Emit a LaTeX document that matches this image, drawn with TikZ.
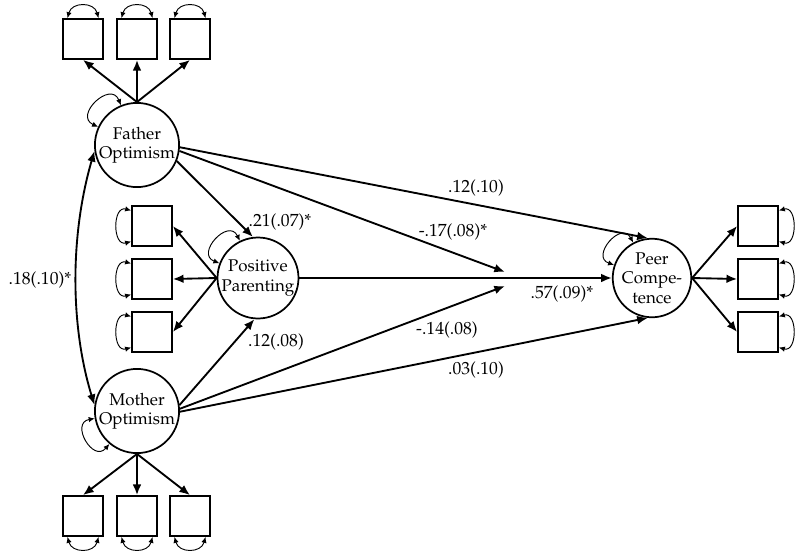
\documentclass[tikz,border=0pt]{standalone}
\usepackage[T1]{fontenc}
\usepackage{mathpazo}
\usetikzlibrary{arrows.meta}

\tikzset{
  latent/.style={circle,draw,line width=1.3pt,minimum size=57pt,inner sep=0pt,
    align=center,font=\fontsize{12.7}{14.5}\selectfont},
  indicator/.style={rectangle,draw,line width=1.3pt,minimum size=30pt,inner sep=0pt},
  effect/.style={line width=1.4pt,-{Latex[length=8pt,width=6.5pt]}},
  corr/.style={line width=1.4pt,{Latex[length=8pt,width=6.5pt]}-{Latex[length=8pt,width=6.5pt]}},
  resid/.style={line width=0.7pt,{Latex[length=4.5pt,width=4pt]}-{Latex[length=4.5pt,width=4pt]}},
  est/.style={font=\fontsize{13.2}{15}\selectfont,inner sep=0pt}
}

\begin{document}
\begin{tikzpicture}[x=0.75pt,y=-0.75pt]
\useasboundingbox (0,0) rectangle (800,558);
% latent variables
\node[latent] (fo) at (137,145) {Father\\Optimism};
\node[latent] (mo) at (137,411) {Mother\\Optimism};
\node[latent] (pp) at (258,278) {Positive\\Parenting};
\node[latent] (pc) at (652,278) {Peer\\Compe-\\tence};
% indicators
\node[indicator] (fo1) at (83,39) {};
\node[indicator] (fo2) at (137,39) {};
\node[indicator] (fo3) at (190,39) {};
\node[indicator] (pp1) at (152,226) {};
\node[indicator] (pp2) at (152,279) {};
\node[indicator] (pp3) at (152,332) {};
\node[indicator] (mo1) at (83,516) {};
\node[indicator] (mo2) at (137,516) {};
\node[indicator] (mo3) at (190,516) {};
\node[indicator] (pc1) at (758,226) {};
\node[indicator] (pc2) at (758,279) {};
\node[indicator] (pc3) at (758,332) {};
% loadings
\draw[effect] (fo.north) -- (fo1.south);
\draw[effect] (fo.north) -- (fo2.south);
\draw[effect] (fo.north) -- (fo3.south);
\draw[effect] (pp.west) -- (pp1.east);
\draw[effect] (pp.west) -- (pp2.east);
\draw[effect] (pp.west) -- (pp3.east);
\draw[effect] (mo.south) -- (mo1.north);
\draw[effect] (mo.south) -- (mo2.north);
\draw[effect] (mo.south) -- (mo3.north);
\draw[effect] (pc.east) -- (pc1.west);
\draw[effect] (pc.east) -- (pc2.west);
\draw[effect] (pc.east) -- (pc3.west);
% residuals
\draw[resid] ([xshift=4pt]fo1.north west) to[out=75,in=105,looseness=1.4] ([xshift=-4pt]fo1.north east);
\draw[resid] ([xshift=4pt]fo2.north west) to[out=75,in=105,looseness=1.4] ([xshift=-4pt]fo2.north east);
\draw[resid] ([xshift=4pt]fo3.north west) to[out=75,in=105,looseness=1.4] ([xshift=-4pt]fo3.north east);
\draw[resid] ([yshift=-4pt]pp1.north west) to[out=165,in=195,looseness=1.6] ([yshift=4pt]pp1.south west);
\draw[resid] ([yshift=-4pt]pp2.north west) to[out=165,in=195,looseness=1.6] ([yshift=4pt]pp2.south west);
\draw[resid] ([yshift=-4pt]pp3.north west) to[out=165,in=195,looseness=1.6] ([yshift=4pt]pp3.south west);
\draw[resid] ([xshift=4pt]mo1.south west) to[out=-75,in=-105,looseness=1.4] ([xshift=-4pt]mo1.south east);
\draw[resid] ([xshift=4pt]mo2.south west) to[out=-75,in=-105,looseness=1.4] ([xshift=-4pt]mo2.south east);
\draw[resid] ([xshift=4pt]mo3.south west) to[out=-75,in=-105,looseness=1.4] ([xshift=-4pt]mo3.south east);
\draw[resid] ([yshift=-4pt]pc1.north east) to[out=15,in=-15,looseness=1.6] ([yshift=4pt]pc1.south east);
\draw[resid] ([yshift=-4pt]pc2.north east) to[out=15,in=-15,looseness=1.6] ([yshift=4pt]pc2.south east);
\draw[resid] ([yshift=-4pt]pc3.north east) to[out=15,in=-15,looseness=1.6] ([yshift=4pt]pc3.south east);
\draw[resid] (fo.155) to[out=155,in=112,looseness=2.2] (fo.112);
\draw[resid] (pp.159) to[out=159,in=116,looseness=2.2] (pp.116);
\draw[resid] (mo.190) to[out=190,in=230,looseness=2.2] (mo.230);
\draw[resid] (pc.161) to[out=161,in=118,looseness=2.2] (pc.118);
% structural paths
\coordinate (m1) at (505,272);
\coordinate (m2) at (505,286);
\draw[corr] (fo.188) .. controls (70,235) and (70,325) .. (mo.172);
\draw[effect] (fo.-3) -- (pc.96);
\draw[effect] (fo.-8) -- (m1);
\draw[effect] (fo.-22) -- (pp.97);
\draw[effect] (pp.east) -- (pc.west);
\draw[effect] (mo.8) -- (pp.265);
\draw[effect] (mo.3) -- (m2);
\draw[effect] (mo.-1) -- (pc.264);
% estimates
\node[est] (e1) at (40,280) {.18(.10)*};
\node[est] (e2) at (280,222) {.21(.07)*};
\node[est] (e3) at (276,342) {.12(.08)};
\node[est] (e4) at (476,188) {.12(.10)};
\node[est] (e5) at (453,232) {-.17(.08)*};
\node[est] (e6) at (562,294) {.57(.09)*};
\node[est] (e7) at (447,330) {-.14(.08)};
\node[est] (e8) at (476,370) {.03(.10)};
\end{tikzpicture}
\end{document}
